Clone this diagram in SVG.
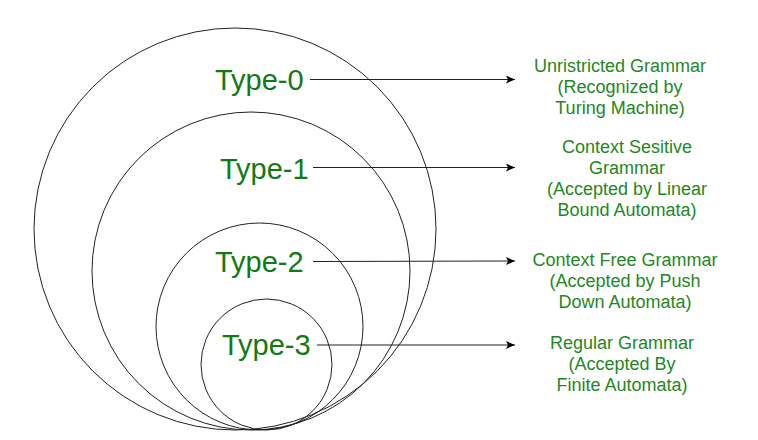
<svg xmlns="http://www.w3.org/2000/svg" width="758" height="440" viewBox="0 0 758 440">
<style>
.c{fill:none;stroke:#222;stroke-width:1}
.t{font-family:"Liberation Sans",Arial,sans-serif;font-size:29px;fill:#117a11}
.d{font-family:"Liberation Sans",Arial,sans-serif;font-size:18px;fill:#238823;text-anchor:middle}
.e{stroke:#222;stroke-width:1.2;fill:none;marker-end:url(#ah)}
</style>
<defs>
<marker id="ah" markerWidth="10" markerHeight="8" refX="9" refY="4" orient="auto" markerUnits="userSpaceOnUse">
<path d="M0,0 L9,4 L0,8 L2,4 Z" fill="#000"/>
</marker>
</defs>
<rect width="758" height="440" fill="#fff"/>
<g id="type0">
<circle class="c" cx="235" cy="229" r="201"/>
<text class="t" x="215" y="90">Type-0</text>
</g>
<g id="type1">
<circle class="c" cx="251" cy="271" r="159"/>
<text class="t" x="220" y="179">Type-1</text>
</g>
<g id="type2">
<circle class="c" cx="259.5" cy="326.5" r="103.5"/>
<text class="t" x="215" y="272">Type-2</text>
</g>
<g id="type3">
<circle class="c" cx="266.5" cy="364.5" r="65.5"/>
<text class="t" x="222" y="355">Type-3</text>
</g>
<g id="desc0">
<text class="d" x="620" y="72">Unristricted Grammar</text>
<text class="d" x="620" y="93">(Recognized by</text>
<text class="d" x="620" y="114">Turing Machine)</text>
</g>
<g id="desc1">
<text class="d" x="627" y="153">Context Sesitive</text>
<text class="d" x="627" y="174">Grammar</text>
<text class="d" x="627" y="195">(Accepted by Linear</text>
<text class="d" x="627" y="216">Bound Automata)</text>
</g>
<g id="desc2">
<text class="d" x="625" y="266">Context Free Grammar</text>
<text class="d" x="625" y="287">(Accepted by Push</text>
<text class="d" x="625" y="308">Down Automata)</text>
</g>
<g id="desc3">
<text class="d" x="622" y="349">Regular Grammar</text>
<text class="d" x="622" y="370">(Accepted By</text>
<text class="d" x="622" y="391">Finite Automata)</text>
</g>
<g id="connectors">
<path class="e" d="M310,79.5 L515,79.5"/>
<path class="e" d="M313,167.5 L515,167.5"/>
<path class="e" d="M313,261.5 L515,261"/>
<path class="e" d="M317,345 L515,345"/>
</g>
</svg>
